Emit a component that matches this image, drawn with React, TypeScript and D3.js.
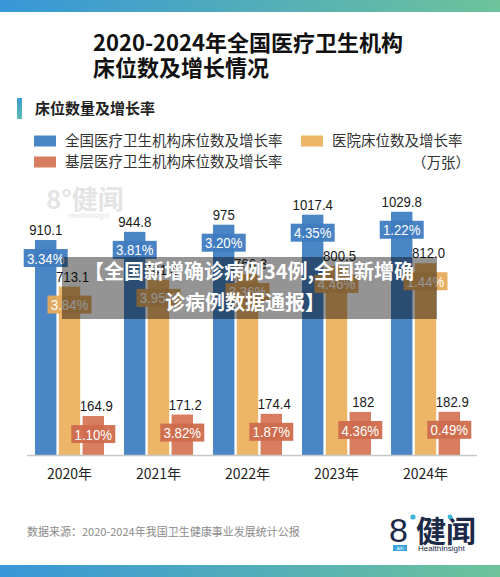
import * as d3 from "d3";

const WIDTH = 500;
const HEIGHT = 577;
const BASE_Y = 455;

const YEARS = ["2020年", "2021年", "2022年", "2023年", "2024年"];
const SERIES = ["national", "hospital", "primary"] as const;
type Series = (typeof SERIES)[number];

const NATIONAL = [910.1, 944.8, 975, 1017.4, 1029.8];
const NATIONAL_LABEL = ["910.1", "944.8", "975", "1017.4", "1029.8"];
const NATIONAL_RATE = ["3.34%", "3.81%", "3.20%", "4.35%", "1.22%"];
const HOSPITAL = [713.1, 741.4, 766.3, 800.5, 812.0];
const HOSPITAL_LABEL = ["713.1", "741.4", "766.3", "800.5", "812.0"];
const HOSPITAL_RATE = ["3.84%", "3.95%", "3.36%", "4.46%", "1.44%"];
const PRIMARY = [164.9, 171.2, 174.4, 182, 182.9];
const PRIMARY_LABEL = ["164.9", "171.2", "174.4", "182", "182.9"];
const PRIMARY_RATE = ["1.10%", "3.82%", "1.87%", "4.36%", "0.49%"];

const LEGEND: { id: Series; label: string }[] = [
  { id: "national", label: "全国医疗卫生机构床位数及增长率" },
  { id: "hospital", label: "医院床位数及增长率" },
  { id: "primary", label: "基层医疗卫生机构床位数及增长率" },
];

const BAR_COLOR: Record<Series, string> = {
  national: "#4a86c6",
  hospital: "#ecb567",
  primary: "#d87d5f",
};
const BOX_COLOR: Record<Series, string> = {
  national: "#3f7cc0",
  hospital: "#e6aa5c",
  primary: "#cf6c4c",
};

const CJK = "'Noto Sans CJK SC', 'Noto Sans', sans-serif";
const NUM = "'Liberation Sans', Arial, sans-serif";

const rows = YEARS.map((year, i) => ({
  year,
  national: { v: NATIONAL[i], label: NATIONAL_LABEL[i], rate: NATIONAL_RATE[i] },
  hospital: { v: HOSPITAL[i], label: HOSPITAL_LABEL[i], rate: HOSPITAL_RATE[i] },
  primary: { v: PRIMARY[i], label: PRIMARY_LABEL[i], rate: PRIMARY_RATE[i] },
}));

// Narrow numeric text: the source uses a condensed face, so squeeze horizontally.
function Narrow({ x, y, fill, children }: { x: number; y: number; fill: string; children: string }) {
  return (
    <text
      transform={`translate(${x},${y}) scale(0.88,1)`}
      textAnchor="middle"
      fontFamily={NUM}
      fontSize={15}
      fill={fill}
    >
      {children}
    </text>
  );
}

export default function App() {
  const x = d3.scaleBand<string>().domain(YEARS).range([25, 470]).paddingInner(0.225).paddingOuter(0.1125);
  const sub = d3.scaleBand<string>().domain([...SERIES]).range([0, x.bandwidth()]).paddingInner(0.1);
  const y = d3.scaleLinear().domain([0, 1000]).range([BASE_Y, BASE_Y - 236.2]);

  return (
    <svg
      width={WIDTH}
      height={HEIGHT}
      viewBox={`0 0 ${WIDTH} ${HEIGHT}`}
      style={{ position: "absolute", left: 0, top: 0, background: "#fff" }}
    >
      <defs>
        <linearGradient id="band" x1="0" x2="1" y1="0" y2="0">
          <stop offset="0" stopColor="#3896d8" />
          <stop offset="1" stopColor="#6cc39b" />
        </linearGradient>
        <linearGradient id="tick" x1="0" x2="0" y1="0" y2="1">
          <stop offset="0" stopColor="#3b9bd4" />
          <stop offset="1" stopColor="#5fbcb0" />
        </linearGradient>
      </defs>
      <rect x={0} y={0} width={WIDTH} height={HEIGHT} fill="#fff" />
      <rect x={0} y={0} width={WIDTH} height={12} fill="url(#band)" />
      <rect x={0} y={565} width={WIDTH} height={12} fill="url(#band)" />

      {/* title */}
      <g fontFamily={CJK} fontWeight={700} fontSize={22} fill="#111">
        <text x={93} y={51}>2020-2024年全国医疗卫生机构</text>
        <text x={93} y={76}>床位数及增长情况</text>
      </g>

      <rect x={17} y={98} width={5} height={21} fill="url(#tick)" />
      <text x={35} y={114} fontFamily={CJK} fontWeight={700} fontSize={15} fill="#222">
        床位数量及增长率
      </text>

      {/* legend */}
      <g fontFamily={CJK} fontSize={14.5} fill="#333">
        {LEGEND.map((d, i) => {
          const lx = i === 1 ? 301 : 34;
          const ly = i === 2 ? 162 : 141;
          return (
            <g key={d.id}>
              <rect x={lx} y={ly - 5.5} width={22} height={11} fill={BAR_COLOR[d.id]} />
              <text x={lx + 31} y={ly} dy="0.36em">
                {d.label}
              </text>
            </g>
          );
        })}
        <text x={470} y={163} dy="0.36em" textAnchor="end">
          （万张）
        </text>
      </g>

      {/* faint watermark */}
      <g fill="#e4e4e4">
        <text x={46} y={209} fontFamily={CJK} fontWeight={700} fontSize={26}>
          8°健闻
        </text>
        <text x={68} y={218} fontFamily={NUM} fontSize={7}>
          HealthInsight
        </text>
      </g>

      {/* bars */}
      {rows.map((r) => (
        <g key={r.year} transform={`translate(${x(r.year)},0)`}>
          {SERIES.map((s) => {
            const d = r[s];
            const bx = sub(s) ?? 0;
            const bw = sub.bandwidth();
            const top = y(d.v);
            const cx = bx + bw / 2;
            return (
              <g key={s}>
                <rect x={bx} y={top} width={bw} height={BASE_Y - top} fill={BAR_COLOR[s]} />
                <rect x={cx - 22} y={top + 9} width={44} height={18} fill={BOX_COLOR[s]} opacity={0.95} />
                <Narrow x={cx} y={top + 23.5} fill="#fff">
                  {d.rate}
                </Narrow>
                <Narrow x={cx + (s === "national" ? 0 : 3)} y={top - 5} fill="#1a1a1a">
                  {d.label}
                </Narrow>
              </g>
            );
          })}
          <text
            x={x.bandwidth() / 2}
            y={479}
            textAnchor="middle"
            fontFamily={CJK}
            fontSize={14}
            fill="#222"
          >
            {r.year}
          </text>
        </g>
      ))}
      <line x1={27} x2={477} y1={BASE_Y + 0.5} y2={BASE_Y + 0.5} stroke="#c8c8c8" strokeWidth={1.5} />

      {/* overlay banner */}
      <rect x={62} y={257} width={375} height={62} fill="#000" opacity={0.42} />
      <g fontFamily={CJK} fontWeight={700} fontSize={20} fill="#fff" textAnchor="middle">
        <text x={249} y={279}>【全国新增确诊病例34例,全国新增确</text>
        <text x={245} y={310}>诊病例数据通报】</text>
      </g>

      {/* footer */}
      <text x={27} y={536} fontFamily={CJK} fontSize={11} fill="#8a8a8a">
        数据来源：2020-2024年我国卫生健康事业发展统计公报
      </text>
      <g>
        <text x={389} y={542} fontFamily={NUM} fontSize={34} fill="#1c2a48">
          8
        </text>
        <circle cx={413} cy={517} r={2.6} fill="#3bb6d8" />
        <text x={416} y={542} fontFamily={CJK} fontWeight={700} fontSize={30} fill="#1c2a48">
          健闻
        </text>
        <circle cx={450} cy={517} r={2.4} fill="#3bb6d8" />
        <rect x={393} y={545} width={14} height={6} fill="#3aa6dd" />
        <text x={400} y={550} textAnchor="middle" fontFamily={NUM} fontSize={5} fill="#fff">
          am
        </text>
        <text x={418} y={551} fontFamily={NUM} fontSize={8} fill="#1c2a48">
          HealthInsight
        </text>
      </g>
    </svg>
  );
}
